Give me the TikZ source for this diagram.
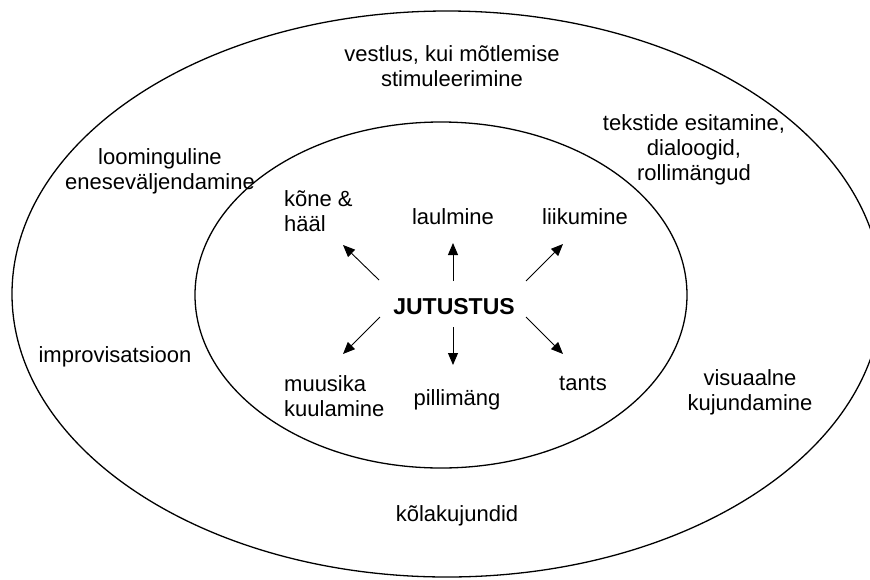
\documentclass[tikz,border=0pt]{standalone}
\usepackage{fontspec}
\setmainfont{Liberation Sans}
\usetikzlibrary{arrows.meta}
\begin{document}
\begin{tikzpicture}[x=1pt,y=-1pt,
  ring/.style={draw=black,line width=1.3pt},
  lbl/.style={font=\fontsize{22}{25}\selectfont,align=center,inner sep=0pt},
  lbll/.style={font=\fontsize{22}{25}\selectfont,align=left,inner sep=0pt},
  arr/.style={line width=0.9pt,-{Triangle[length=12pt,width=10pt]}}]
\useasboundingbox (0,0) rectangle (870,579);
\begin{scope}
\clip (0,0) rectangle (870,579);
\draw[ring] (447,294) ellipse [x radius=435, y radius=283];
\end{scope}
\draw[ring] (441,295) ellipse [x radius=246, y radius=173];
% outer ring texts
\node[lbl] (vest) at (452,66) {vestlus, kui mõtlemise\\stimuleerimine};
\node[lbl] (teks) at (694,150) {tekstide esitamine,\\dialoogid,\\rollimängud};
\node[lbl] (loom) at (160,171) {loominguline\\eneseväljendamine};
\node[lbl] (impr) at (115,357) {improvisatsioon};
\node[lbl] (visu) at (750,392) {visuaalne\\kujundamine};
\node[lbl] (kola) at (457,516) {kõlakujundid};
% inner texts
\node[font=\fontsize{23}{25}\selectfont\bfseries,inner sep=0pt] (jut) at (454,307) {JUTUSTUS};
\node[lbll,anchor=west] (kone) at (284,211) {kõne \&\\hääl};
\node[lbl] (laul) at (453,217) {laulmine};
\node[lbl] (liik) at (585,217) {liikumine};
\node[lbll,anchor=west] (muus) at (284,396) {muusika\\kuulamine};
\node[lbl] (pill) at (457,400) {pillimäng};
\node[lbl] (tant) at (583,383) {tants};
% arrows
\coordinate (s1) at (379,280); \coordinate (e1) at (343,245);
\coordinate (s2) at (453,281); \coordinate (e2) at (453,243);
\coordinate (s3) at (526,281); \coordinate (e3) at (563,244);
\coordinate (s4) at (380,317); \coordinate (e4) at (343,354);
\coordinate (s5) at (453,327); \coordinate (e5) at (453,365);
\coordinate (s6) at (526,317); \coordinate (e6) at (563,354);
\draw[arr] (s1) -- (e1);
\draw[arr] (s2) -- (e2);
\draw[arr] (s3) -- (e3);
\draw[arr] (s4) -- (e4);
\draw[arr] (s5) -- (e5);
\draw[arr] (s6) -- (e6);
\end{tikzpicture}
\end{document}
